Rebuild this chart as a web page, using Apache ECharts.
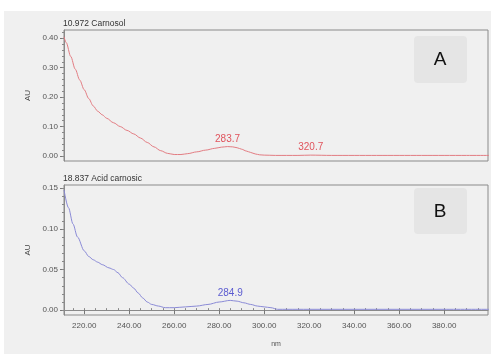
<!DOCTYPE html>
<html>
<head>
<meta charset="utf-8">
<script src="https://cdn.jsdelivr.net/npm/echarts@6/dist/echarts.min.js"></script>
<style>
  html, body { margin: 0; padding: 0; background: #ffffff; }
  #chart { width: 491px; height: 354px; }
</style>
</head>
<body>
<div id="chart"></div>
<script>
// UV spectra of two peaks (wavelength in nm, absorbance in AU)
const carnosolNm = [211, 212, 214, 216, 218, 220, 222, 224, 226, 228, 230, 233, 236, 239, 242, 245, 248, 251, 254, 257, 260, 263, 266, 270, 274, 278, 281, 283.7, 286, 288, 290, 292, 294, 296, 298, 300, 305, 310, 315, 320.7, 330, 340, 350, 360, 370, 380, 390, 400];
const carnosolAU = [0.405, 0.385, 0.338, 0.295, 0.258, 0.225, 0.195, 0.170, 0.152, 0.140, 0.128, 0.113, 0.100, 0.087, 0.075, 0.061, 0.046, 0.031, 0.018, 0.009, 0.005, 0.005, 0.008, 0.014, 0.020, 0.026, 0.030, 0.032, 0.031, 0.028, 0.023, 0.017, 0.012, 0.007, 0.004, 0.003, 0.002, 0.002, 0.002, 0.003, 0.002, 0.002, 0.002, 0.002, 0.002, 0.002, 0.002, 0.002];
const carnosolPeaks = [283.7, 320.7];

const acidNm = [211, 213, 215, 217, 220, 222, 224, 226, 228, 231, 233, 235, 237, 240, 242, 244, 246, 248, 250, 253, 256, 260, 265, 270, 275, 280, 284.9, 288, 291, 294, 297, 300, 303, 306, 310, 320, 340, 360, 380, 400];
const acidAU = [0.148, 0.126, 0.106, 0.090, 0.073, 0.066, 0.062, 0.059, 0.056, 0.052, 0.050, 0.046, 0.040, 0.032, 0.027, 0.021, 0.015, 0.010, 0.007, 0.005, 0.003, 0.003, 0.004, 0.005, 0.007, 0.010, 0.012, 0.011, 0.009, 0.007, 0.005, 0.004, 0.003, 0.001, 0.001, 0.001, 0.001, 0.001, 0.001, 0.001];
const acidPeaks = [284.9];

const xMajorTicks = [220, 240, 260, 280, 300, 320, 340, 360, 380];
const topYTicks = [0, 0.1, 0.2, 0.3, 0.4];
const bottomYTicks = [0, 0.05, 0.1, 0.15];

const titles = ['10.972 Carnosol', '18.837 Acid carnosic'];
const panelTags = ['A', 'B'];

const FONT = '"Liberation Sans", Arial, sans-serif';
const RED_LINE = '#e27c82', RED_TEXT = '#dc2a36';
const BLUE_LINE = '#8a8ad6', BLUE_TEXT = '#3434c8';

function range(a, b, step) {
  const out = [];
  for (let v = a; v <= b + 1e-9; v += step) out.push(+v.toFixed(4));
  return out;
}

// peak markers take their height from the spectrum itself
function peakData(xs, ys, peaks) {
  return peaks.map(p => [p, ys[xs.indexOf(p)]]);
}

function peakSeries(xs, ys, peaks, color, axis) {
  return {
    type: 'scatter', xAxisIndex: axis, yAxisIndex: axis, symbolSize: 1, z: 4,
    itemStyle: { color: 'rgba(0,0,0,0)' },
    label: { show: true, position: 'top', distance: 2, formatter: p => String(p.value[0]),
      color: color, fontSize: 10, fontFamily: FONT },
    data: peakData(xs, ys, peaks)
  };
}

const X_MIN = 211, X_MAX = 399.5;
const grids = [
  { left: 64, top: 30, width: 424, height: 131 },
  { left: 64, top: 185, width: 424, height: 130 }
];

const labelStyle = { color: '#555', fontSize: 8, fontFamily: FONT };

const chart = echarts.init(document.getElementById('chart'), null, { renderer: 'canvas' });
chart.setOption({
  backgroundColor: '#ffffff',
  animation: false,
  title: [
    { text: titles[0], left: 63, top: 19, padding: 0, textStyle: { fontSize: 8.5, fontWeight: 'normal', color: '#333', fontFamily: FONT } },
    { text: titles[1], left: 63, top: 174, padding: 0, textStyle: { fontSize: 8.5, fontWeight: 'normal', color: '#333', fontFamily: FONT } }
  ],
  graphic: [
    { type: 'rect', z: -10, shape: { x: 4, y: 11, width: 487, height: 343 }, style: { fill: '#f0f0f0' } },
    { type: 'rect', z: 5, shape: { x: 414, y: 36, width: 53, height: 47, r: 4 }, style: { fill: '#e5e5e5' } },
    { type: 'text', z: 6, style: { text: panelTags[0], x: 440, y: 60, fill: '#111', fontSize: 19, fontFamily: FONT, align: 'center', verticalAlign: 'middle' } },
    { type: 'rect', z: 5, shape: { x: 414, y: 188, width: 53, height: 46, r: 4 }, style: { fill: '#e5e5e5' } },
    { type: 'text', z: 6, style: { text: panelTags[1], x: 440, y: 212, fill: '#111', fontSize: 19, fontFamily: FONT, align: 'center', verticalAlign: 'middle' } }
  ],
  grid: grids.map(g => Object.assign({ show: true, borderColor: '#8a8a8a', borderWidth: 1, backgroundColor: '#f0f0f0' }, g)),
  xAxis: [
    { type: 'value', gridIndex: 0, min: X_MIN, max: X_MAX, axisLine: { show: false }, axisTick: { show: false }, axisLabel: { show: false }, splitLine: { show: false } },
    { type: 'value', gridIndex: 1, min: X_MIN, max: X_MAX,
      axisLine: { show: true, lineStyle: { color: '#8a8a8a' } },
      axisTick: { show: true, length: 4, customValues: xMajorTicks, lineStyle: { color: '#777' } },
      axisLabel: { show: true, customValues: xMajorTicks, formatter: v => v.toFixed(2), margin: 7, ...labelStyle },
      splitLine: { show: false },
      name: 'nm', nameLocation: 'middle', nameGap: 26, nameTextStyle: { color: '#555', fontSize: 7, fontFamily: FONT } },
    { type: 'value', gridIndex: 1, min: X_MIN, max: X_MAX,
      axisLine: { show: false },
      axisTick: { show: true, length: 2, customValues: range(215, 395, 5), lineStyle: { color: '#888' } },
      axisLabel: { show: false }, splitLine: { show: false } }
  ],
  yAxis: [
    { type: 'value', gridIndex: 0, min: -0.017, max: 0.428,
      axisLine: { show: true, lineStyle: { color: '#8a8a8a' } },
      axisTick: { show: true, length: 4, customValues: topYTicks, lineStyle: { color: '#777' } },
      axisLabel: { show: true, customValues: topYTicks, formatter: v => v.toFixed(2), margin: 6, ...labelStyle },
      splitLine: { show: false },
      name: 'AU', nameLocation: 'middle', nameGap: 24, nameTextStyle: { color: '#444', fontSize: 8, fontFamily: FONT } },
    { type: 'value', gridIndex: 1, min: -0.006, max: 0.154,
      axisLine: { show: true, lineStyle: { color: '#8a8a8a' } },
      axisTick: { show: true, length: 4, customValues: bottomYTicks, lineStyle: { color: '#777' } },
      axisLabel: { show: true, customValues: bottomYTicks, formatter: v => v.toFixed(2), margin: 6, ...labelStyle },
      splitLine: { show: false },
      name: 'AU', nameLocation: 'middle', nameGap: 24, nameTextStyle: { color: '#444', fontSize: 8, fontFamily: FONT } },
    { type: 'value', gridIndex: 0, min: -0.017, max: 0.428, position: 'left',
      axisLine: { show: false }, axisLabel: { show: false }, splitLine: { show: false },
      axisTick: { show: true, length: 2, customValues: range(0, 0.42, 0.02), lineStyle: { color: '#888' } } },
    { type: 'value', gridIndex: 1, min: -0.006, max: 0.154, position: 'left',
      axisLine: { show: false }, axisLabel: { show: false }, splitLine: { show: false },
      axisTick: { show: true, length: 2, customValues: range(0, 0.15, 0.01), lineStyle: { color: '#888' } } }
  ],
  series: [
    { type: 'line', xAxisIndex: 0, yAxisIndex: 0, smooth: 0.3, smoothMonotone: 'x', showSymbol: false, symbol: 'none',
      lineStyle: { color: RED_LINE, width: 1 }, data: carnosolNm.map((x, i) => [x, carnosolAU[i]]) },
    { type: 'line', xAxisIndex: 1, yAxisIndex: 1, smooth: 0.3, smoothMonotone: 'x', showSymbol: false, symbol: 'none',
      lineStyle: { color: BLUE_LINE, width: 1 }, data: acidNm.map((x, i) => [x, acidAU[i]]) },
    peakSeries(carnosolNm, carnosolAU, carnosolPeaks, RED_TEXT, 0),
    peakSeries(acidNm, acidAU, acidPeaks, BLUE_TEXT, 1)
  ]
});
</script>
</body>
</html>
